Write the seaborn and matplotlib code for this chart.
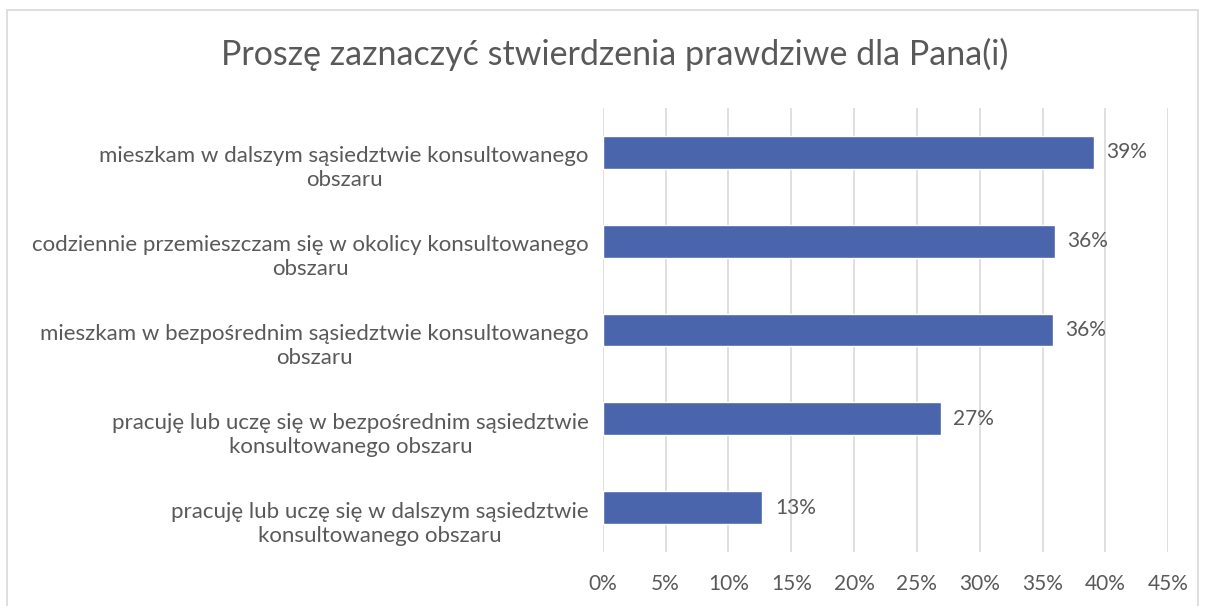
import matplotlib.pyplot as plt
import pandas as pd
import seaborn as sns
from matplotlib.patches import Rectangle
from matplotlib.ticker import FuncFormatter, MultipleLocator
from matplotlib.transforms import offset_copy

title = "Proszę zaznaczyć stwierdzenia prawdziwe dla Pana(i)"
statements = [
    "mieszkam w dalszym sąsiedztwie konsultowanego\nobszaru",
    "codziennie przemieszczam się w okolicy konsultowanego\nobszaru",
    "mieszkam w bezpośrednim sąsiedztwie konsultowanego\nobszaru",
    "pracuję lub uczę się w bezpośrednim sąsiedztwie\nkonsultowanego obszaru",
    "pracuję lub uczę się w dalszym sąsiedztwie\nkonsultowanego obszaru",
]
shares = [39.1, 36.0, 35.8, 26.9, 12.7]

bar_color = "#4A65AC"
text_color = "#595959"
grid_color = "#D9D9D9"

df = pd.DataFrame({"statement": statements, "share": shares})

sns.set_theme(style="white")
plt.rcParams["font.family"] = ["Lato", "DejaVu Sans"]

fig = plt.figure(figsize=(12.08, 6.06), dpi=100)
ax = fig.add_axes([0.499, 0.089, 0.468, 0.733])

sns.barplot(data=df, y="statement", x="share", orient="h", color=bar_color,
            saturation=1, width=0.37, ax=ax, zorder=3)

ax.set_xlim(0, 45)
ax.set_ylim(len(statements) - 0.5, -0.5)
ax.xaxis.set_major_locator(MultipleLocator(5))
ax.xaxis.set_major_formatter(FuncFormatter(lambda v, _: f"{v:.0f}%"))
ax.grid(axis="x", color=grid_color, linewidth=1.2, zorder=0)
ax.set_axisbelow(True)
for side in ax.spines.values():
    side.set_visible(False)
ax.set_xlabel("")
ax.set_ylabel("")
ax.tick_params(axis="x", length=0, pad=16, labelsize=15, labelcolor=text_color)
ax.tick_params(axis="y", length=0)
ax.set_yticks(range(len(statements)))
ax.set_yticklabels([])

# category labels: first line level with the bar, second line below (Excel style)
# va="baseline" anchors the last line, so shift it one line down
label_tr = offset_copy(ax.get_yaxis_transform(), fig=fig, x=-14, y=-34, units="dots")
for i, name in enumerate(statements):
    ax.text(0, i, name, transform=label_tr, ha="right", va="baseline",
            multialignment="center", linespacing=1.25, fontsize=16, color=text_color)

for patch, val in zip(ax.patches, shares):
    ax.text(patch.get_width() + 1.0, patch.get_y() + patch.get_height() / 2,
            f"{val:.0f}%", va="center", ha="left", fontsize=15, color=text_color)

fig.text(0.509, 0.91, title, ha="center", va="center", fontsize=24.5, color=text_color)

fig.patches.append(Rectangle((7 / 1208, -0.05), 1191 / 1208, 1.05 - 10 / 606,
                             transform=fig.transFigure, fill=False,
                             edgecolor=grid_color, linewidth=1.2))

fig.savefig("out.png", dpi=100)
